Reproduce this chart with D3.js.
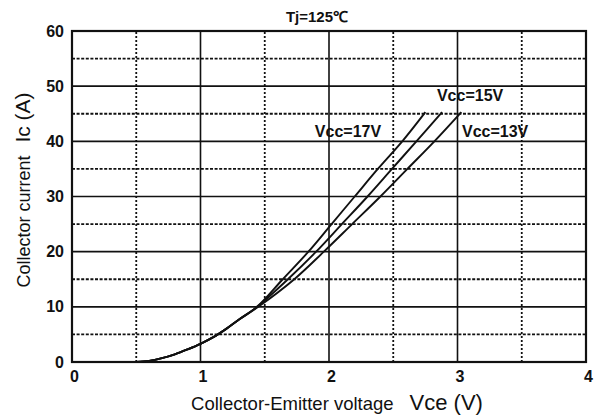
<!DOCTYPE html>
<html lang="en">
<head>
<meta charset="UTF-8">
<title>Ic-Vce</title>
<style>
  body{margin:0;background:#fff;}
  svg{display:block;}
  text{fill:#111;}
</style>
</head>
<body>
<svg width="606" height="419"></svg>
<script src="https://d3js.org/d3.v7.min.js"></script>
<script>
// data
var xTicks = [0, 1, 2, 3, 4];
var yTicks = [0, 10, 20, 30, 40, 50, 60];
var xMinor = [0.5, 1.5, 2.5, 3.5];
var yMinor = [5, 15, 25, 35, 45, 55];

var vce17 = [0.5, 0.6, 0.7, 0.8, 0.9, 1.0, 1.1, 1.2, 1.3, 1.44, 1.64, 1.84, 2.02, 2.20, 2.38, 2.57, 2.75];
var ic17  = [0, 0.2, 0.7, 1.4, 2.3, 3.3, 4.5, 6.0, 7.7, 10, 15, 20, 25, 30, 35, 40, 45.3];
var vce15 = [0.5, 0.6, 0.7, 0.8, 0.9, 1.0, 1.1, 1.2, 1.3, 1.44, 1.68, 1.90, 2.10, 2.30, 2.49, 2.68, 2.88];
var ic15  = [0, 0.2, 0.7, 1.4, 2.3, 3.3, 4.5, 6.0, 7.7, 10, 15, 20, 25, 30, 35, 40, 45.3];
var vce13 = [0.5, 0.6, 0.7, 0.8, 0.9, 1.0, 1.1, 1.2, 1.3, 1.45, 1.73, 1.96, 2.18, 2.40, 2.61, 2.82, 3.03];
var ic13  = [0, 0.2, 0.7, 1.4, 2.3, 3.3, 4.5, 6.0, 7.7, 10, 15, 20, 25, 30, 35, 40, 45.3];
var seriesNames = ["Vcc=17V", "Vcc=15V", "Vcc=13V"];

var svg = d3.select("svg");
var x = d3.scaleLinear().domain([0, 4]).range([72, 586]);
var y = d3.scaleLinear().domain([0, 60]).range([362, 31]);

// grid: dotted halves first, solid majors on top
var grid = svg.append("g");
grid.selectAll(".vmin").data(xMinor).enter().append("line")
    .attr("x1", d => x(d)).attr("x2", d => x(d)).attr("y1", y(0)).attr("y2", y(60))
    .attr("stroke", "#111").attr("stroke-width", 1.8).attr("stroke-dasharray", "2,2");
grid.selectAll(".hmin").data(yMinor).enter().append("line")
    .attr("x1", x(0)).attr("x2", x(4)).attr("y1", d => y(d)).attr("y2", d => y(d))
    .attr("stroke", "#111").attr("stroke-width", 1.8).attr("stroke-dasharray", "3,1.6");
grid.selectAll(".vmaj").data(xTicks.slice(1, -1)).enter().append("line")
    .attr("x1", d => x(d)).attr("x2", d => x(d)).attr("y1", y(0)).attr("y2", y(60))
    .attr("stroke", "#111").attr("stroke-width", 1.6);
grid.selectAll(".hmaj").data(yTicks.slice(1, -1)).enter().append("line")
    .attr("x1", x(0)).attr("x2", x(4)).attr("y1", d => y(d)).attr("y2", d => y(d))
    .attr("stroke", "#111").attr("stroke-width", 1.6);
svg.append("rect").attr("x", x(0)).attr("y", y(60))
    .attr("width", x(4) - x(0)).attr("height", y(0) - y(60))
    .attr("fill", "none").attr("stroke", "#111").attr("stroke-width", 2.2);

// axes (text only, the frame is drawn above)
var xAxis = svg.append("g").attr("transform", "translate(0," + y(0) + ")")
    .call(d3.axisBottom(x).tickValues(xTicks).tickSize(0).tickPadding(6).tickFormat(d3.format("d")));
var yAxis = svg.append("g").attr("transform", "translate(" + x(0) + ",0)")
    .call(d3.axisLeft(y).tickValues(yTicks).tickSize(0).tickPadding(8).tickFormat(d3.format("d")));
[xAxis, yAxis].forEach(function (a) {
    a.select(".domain").remove();
    a.selectAll("text").attr("font-family", "Liberation Sans, Arial, sans-serif")
        .attr("font-size", 16).attr("font-weight", "bold").attr("fill", "#111");
});
xAxis.selectAll("text").attr("dy", "0.85em").attr("dx", 2);

// curves
var line = d3.line().x(d => x(d[0])).y(d => y(d[1])).curve(d3.curveCatmullRom.alpha(0.5));
var series = [d3.zip(vce17, ic17), d3.zip(vce15, ic15), d3.zip(vce13, ic13)];
svg.append("g").selectAll("path").data(series).enter().append("path")
    .attr("d", line).attr("fill", "none").attr("stroke", "#111").attr("stroke-width", 1.9);

// curve labels
var labelPos = [[1.89, 40.8], [2.84, 47.3], [3.035, 40.8]];
svg.append("g").selectAll("text").data(seriesNames).enter().append("text")
    .attr("x", (d, i) => x(labelPos[i][0])).attr("y", (d, i) => y(labelPos[i][1]))
    .attr("font-family", "Liberation Sans, Arial, sans-serif").attr("font-size", 16)
    .attr("font-weight", "bold").text(d => d);

// title
svg.append("text").attr("x", 317).attr("y", 22).attr("text-anchor", "middle")
    .attr("font-family", "Liberation Sans, Arial, sans-serif").attr("font-size", 15)
    .attr("font-weight", "bold").text("Tj=125℃");

// axis titles
var xt = svg.append("text").attr("x", 337).attr("y", 410).attr("text-anchor", "middle")
    .attr("font-family", "Liberation Sans, Arial, sans-serif");
xt.append("tspan").attr("font-size", 18.5).text("Collector-Emitter voltage");
xt.append("tspan").attr("font-size", 22).attr("dx", 16).text("Vce (V)");

var yt = svg.append("text").attr("transform", "translate(30,190) rotate(-90)").attr("text-anchor", "middle")
    .attr("font-family", "Liberation Sans, Arial, sans-serif");
yt.append("tspan").attr("font-size", 18).text("Collector current");
yt.append("tspan").attr("font-size", 21).attr("dx", 13).text("Ic (A)");
</script>
</body>
</html>
